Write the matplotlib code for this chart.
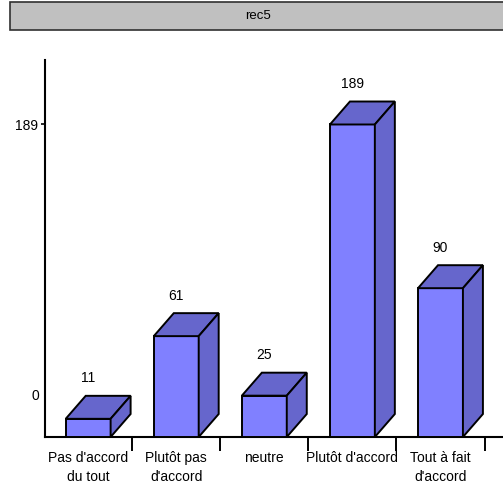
import matplotlib
matplotlib.use('Agg')
import matplotlib.pyplot as plt
from matplotlib.patches import Polygon, Rectangle

categories = ["Pas d'accord\ndu tout", "Plutôt pas\nd'accord", "neutre",
              "Plutôt d'accord", "Tout à fait\nd'accord"]
counts = [11, 61, 25, 189, 90]
title = "rec5"

FRONT = '#8080ff'
SHADE = '#6666cc'
FONT = ['Liberation Sans', 'DejaVu Sans']

W, H, DPI = 503, 491, 100
fig = plt.figure(figsize=(W / DPI, H / DPI), dpi=DPI)

# grey header band
fig.patches.append(Rectangle((10 / W, 1 - 30 / H), 1.0, 28 / H,
                             transform=fig.transFigure, facecolor='#c0c0c0',
                             edgecolor='#303030', linewidth=1.2))
fig.text(258 / W, 1 - 16 / H, title, ha='center', va='center',
         fontsize=9.5, family=FONT)

ax = fig.add_axes([45 / W, 54 / H, 458 / W, 377 / H])
ymax = 228
ax.set_ylim(0, ymax)
ax.set_xlim(-0.49, 4.71)

# 3d offsets (x in category units, y in data units)
dx = 0.227
dy = 13.9
bw = 0.51

x = list(range(len(counts)))
ax.bar(x, counts, width=bw, color=FRONT, edgecolor='black', linewidth=1.4, zorder=3)
for xi, v in zip(x, counts):
    l, r = xi - bw / 2, xi + bw / 2
    top = Polygon([(l, v), (r, v), (r + dx, v + dy), (l + dx, v + dy)],
                  closed=True, facecolor=SHADE, edgecolor='black', linewidth=1.4, zorder=3)
    side = Polygon([(r, 0), (r + dx, dy), (r + dx, v + dy), (r, v)],
                   closed=True, facecolor=SHADE, edgecolor='black', linewidth=1.4, zorder=3)
    ax.add_patch(top)
    ax.add_patch(side)
    ax.text(xi, v + dy + 10.5, str(v), ha='center', va='center', fontsize=10, family=FONT)

for s in ['top', 'right']:
    ax.spines[s].set_visible(False)
for s in ['left', 'bottom']:
    ax.spines[s].set_linewidth(1.5)

# category boundaries get the tick marks, labels sit at the centres
ax.set_xticks([i + 0.5 for i in x])
ax.set_xticklabels([])
ax.tick_params(axis='x', which='major', direction='out', length=10, width=1.4)
ax.set_xticks(x, minor=True)
ax.set_xticklabels(categories, minor=True, fontsize=10, family=FONT, linespacing=1.5)
ax.tick_params(axis='x', which='minor', length=0, pad=10)

ax.set_yticks([189])
ax.set_yticklabels(['189'], fontsize=10, family=FONT)
ax.tick_params(axis='y', direction='out', length=3, width=1.2, pad=2)
ax.text(-0.55, 25, '0', ha='right', va='center', fontsize=10, family=FONT)

fig.savefig('out.png', dpi=DPI)
